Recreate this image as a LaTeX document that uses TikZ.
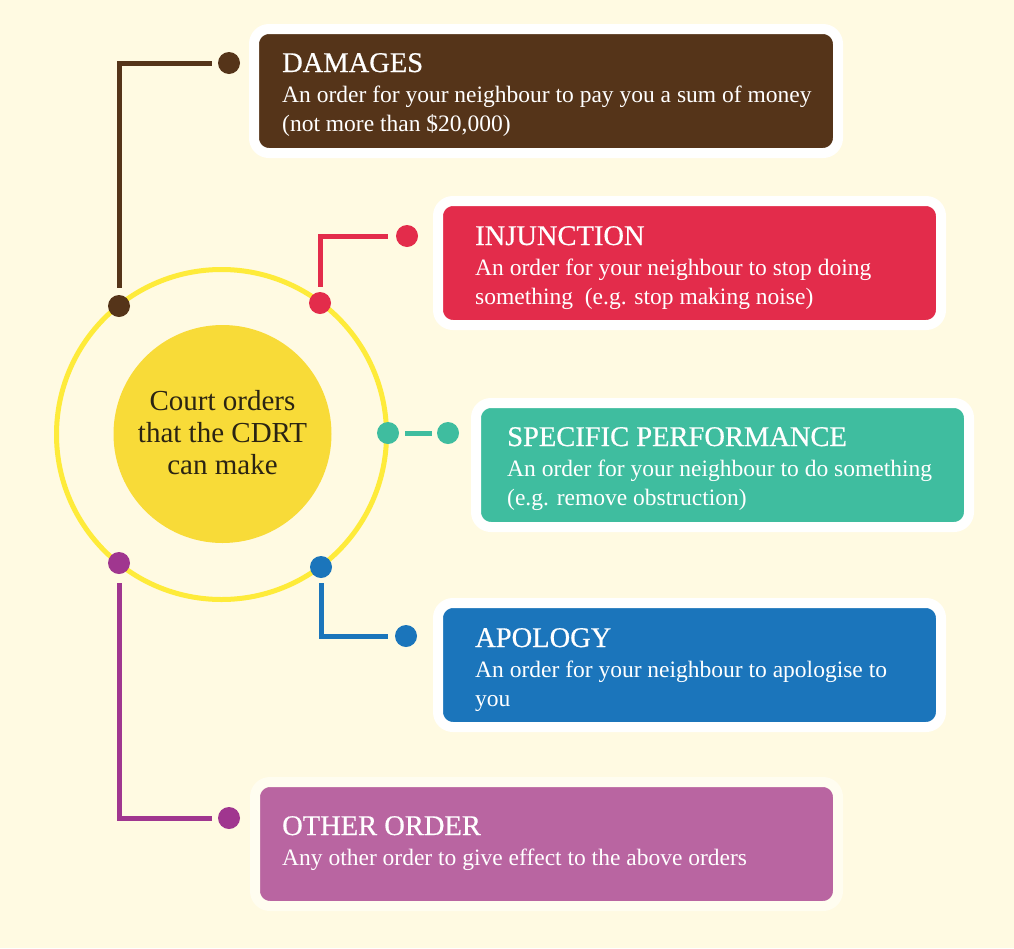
\documentclass[tikz,border=0pt]{standalone}
\usepackage{fontspec}
\setmainfont{Liberation Serif}
\newfontfamily\headfont[FakeBold=0.6]{Liberation Serif}
\definecolor{paper}{HTML}{FFFAE2}
\definecolor{ring}{HTML}{FEEB3A}
\definecolor{hubfill}{HTML}{F8DB38}
\definecolor{hubtext}{HTML}{2B2413}
\definecolor{cbrown}{HTML}{553419}
\definecolor{cred}{HTML}{E32C4B}
\definecolor{cteal}{HTML}{3FBD9F}
\definecolor{cblue}{HTML}{1B75BB}
\definecolor{cpurple}{HTML}{B965A1}
\definecolor{cplum}{HTML}{A0368F}
\definecolor{creamwhite}{HTML}{FFFDF0}
\begin{document}
\begin{tikzpicture}[x=1pt,y=-1pt,
  orderbox/.style={draw=white, line width=10pt, rounded corners=15pt, inner sep=0pt},
  titletext/.style={anchor=base west, inner sep=0pt, text=white, font=\headfont\fontsize{28.5}{29}\selectfont},
  bodytext/.style={anchor=base west, inner sep=0pt, text=white, font=\fontsize{23.5}{29}\selectfont},
  dot/.style={circle, fill=#1, minimum size=22pt, inner sep=0pt},
  link/.style={draw=#1, line width=5pt}]
% canvas
\useasboundingbox (0,0) rectangle (1014,948);
\fill[paper] (0,0) rectangle (1014,948);

% central hub
\node[circle, draw=ring, line width=5pt, minimum size=330pt, inner sep=0pt] (ring) at (221.5,434.5) {};
\node[circle, fill=hubfill, minimum size=218pt, inner sep=0pt] (hub) at (222.5,434) {};
\node[align=center, text=hubtext, inner sep=0pt, font=\fontsize{29}{32}\selectfont] (hublabel) at (222.5,433) {Court orders\\that the CDRT\\can make};

% dots on the ring
\node[dot=cbrown] (c1) at (119,306) {};
\node[dot=cred] (c2) at (320,303) {};
\node[dot=cteal] (c3) at (388,433) {};
\node[dot=cblue] (c4) at (321,567) {};
\node[dot=cplum] (c5) at (119,563) {};

% dots beside the boxes
\node[dot=cbrown] (o1) at (229,63) {};
\node[dot=cred] (o2) at (407,236) {};
\node[dot=cteal] (o3) at (448,433) {};
\node[dot=cblue] (o4) at (406,636) {};
\node[dot=cplum] (o5) at (229,818) {};

% connectors
\draw[link=cbrown, shorten <=7pt, shorten >=6pt] (c1.north) |- (o1.west);
\draw[link=cred, shorten <=5pt, shorten >=8pt] (c2.north) |- (o2.west);
\draw[link=cteal, shorten <=6pt, shorten >=5pt] (c3.east) -- (o3.west);
\draw[link=cblue, shorten <=5pt, shorten >=7pt] (c4.south) |- (o4.west);
\draw[link=cplum, shorten <=9pt, shorten >=6pt] (c5.south) |- (o5.west);

% order boxes
\node[orderbox, fill=cbrown, minimum width=584pt, minimum height=124pt] (dmg) at (546,91) {};
\node[orderbox, fill=cred, minimum width=503pt, minimum height=124pt] (inj) at (689.5,263) {};
\node[orderbox, fill=cteal, minimum width=493pt, minimum height=124pt] (spec) at (722.5,465) {};
\node[orderbox, fill=cblue, minimum width=503pt, minimum height=124pt] (apo) at (689.5,665) {};
\node[orderbox, draw=creamwhite, fill=cpurple, minimum width=583pt, minimum height=124pt] (oth) at (546.5,844) {};

% box texts
\node[titletext] (dmgT) at (282,72) {DAMAGES};
\node[bodytext] (dmgA) at (282,102) {An order for your neighbour to pay you a sum of money};
\node[bodytext] (dmgB) at (282,131) {(not more than \$20,000)};

\node[titletext] (injT) at (475,245) {INJUNCTION};
\node[bodytext] (injA) at (475,275) {An order for your neighbour to stop doing};
\node[bodytext] (injB) at (475,304) {something\ \ (e.g. stop making noise)};

\node[titletext] (specT) at (507,446) {SPECIFIC PERFORMANCE};
\node[bodytext] (specA) at (507,476) {An order for your neighbour to do something};
\node[bodytext] (specB) at (507,505) {(e.g. remove obstruction)};

\node[titletext] (apoT) at (475,647) {APOLOGY};
\node[bodytext] (apoA) at (475,677) {An order for your neighbour to apologise to};
\node[bodytext] (apoB) at (475,706) {you};

\node[titletext] (othT) at (282,835) {OTHER ORDER};
\node[bodytext] (othA) at (282,865) {Any other order to give effect to the above orders};
\end{tikzpicture}
\end{document}
